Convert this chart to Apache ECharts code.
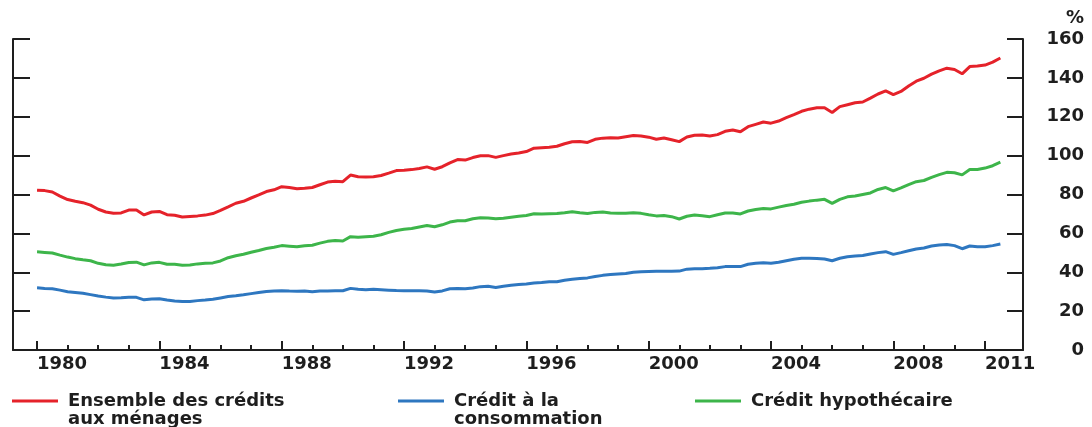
<!DOCTYPE html>
<html>
<head>
<meta charset="utf-8">
<script src="https://cdn.jsdelivr.net/npm/echarts@6/dist/echarts.min.js"></script>
<style>
html,body{margin:0;padding:0;background:#fff;}
#chart{width:1092px;height:427px;}
</style>
</head>
<body>
<div id="chart"></div>
<script>
// Quarterly dates (decimal years)
const quarters = [
1980.00,1980.25,1980.50,1980.75,1981.00,1981.25,1981.50,1981.75,1982.00,1982.25,1982.50,1982.75,
1983.00,1983.25,1983.50,1983.75,1984.00,1984.25,1984.50,1984.75,1985.00,1985.25,1985.50,1985.75,
1986.00,1986.25,1986.50,1986.75,1987.00,1987.25,1987.50,1987.75,1988.00,1988.25,1988.50,1988.75,
1989.00,1989.25,1989.50,1989.75,1990.00,1990.25,1990.50,1990.75,1991.00,1991.25,1991.50,1991.75,
1992.00,1992.25,1992.50,1992.75,1993.00,1993.25,1993.50,1993.75,1994.00,1994.25,1994.50,1994.75,
1995.00,1995.25,1995.50,1995.75,1996.00,1996.25,1996.50,1996.75,1997.00,1997.25,1997.50,1997.75,
1998.00,1998.25,1998.50,1998.75,1999.00,1999.25,1999.50,1999.75,2000.00,2000.25,2000.50,2000.75,
2001.00,2001.25,2001.50,2001.75,2002.00,2002.25,2002.50,2002.75,2003.00,2003.25,2003.50,2003.75,
2004.00,2004.25,2004.50,2004.75,2005.00,2005.25,2005.50,2005.75,2006.00,2006.25,2006.50,2006.75,
2007.00,2007.25,2007.50,2007.75,2008.00,2008.25,2008.50,2008.75,2009.00,2009.25,2009.50,2009.75,
2010.00,2010.25,2010.50,2010.75,2011.00,2011.25,2011.50
];

// Ensemble des crédits aux ménages (%)
const ensemble = [
82.2,82.0,81.3,79.2, 77.4,76.5,75.8,74.5, 72.4,71.0,70.4,70.5, 72.0,72.0,69.5,71.0,
71.3,69.6,69.3,68.4, 68.7,69.0,69.4,70.2, 71.8,73.6,75.5,76.5, 78.2,79.8,81.5,82.4,
84.0,83.6,83.0,83.2, 83.6,85.0,86.4,86.8, 86.6,90.0,89.1,89.0, 89.1,89.8,91.0,92.3,
92.5,92.8,93.4,94.2, 93.0,94.3,96.3,98.0, 97.7,99.0,99.9,100.0, 99.1,100.0,100.8,101.4,
102.1,103.8,104.1,104.3, 104.8,106.1,107.1,107.3, 106.8,108.4,109.0,109.2, 109.1,109.7,110.3,110.1,
109.5,108.4,109.1,108.2, 107.2,109.6,110.5,110.6, 110.1,110.8,112.5,113.2, 112.3,114.9,116.1,117.3,
116.7,117.8,119.5,121.1, 122.8,123.9,124.6,124.6, 122.2,125.2,126.2,127.2, 127.6,129.6,131.7,133.3,
131.4,133.0,135.8,138.3, 139.8,141.9,143.6,145.0, 144.3,142.1,145.8,146.1, 146.6,148.1,150.2
];

// Crédit à la consommation (%)
const consommation = [
32.0,31.7,31.5,30.8, 30.0,29.6,29.2,28.5, 27.8,27.2,26.8,26.9, 27.1,27.1,25.8,26.2,
26.4,25.7,25.2,24.9, 25.0,25.4,25.7,26.1, 26.8,27.5,27.9,28.4, 29.0,29.6,30.1,30.4,
30.5,30.3,30.2,30.3, 30.0,30.3,30.4,30.5, 30.5,31.7,31.2,31.0, 31.2,31.0,30.8,30.6,
30.5,30.5,30.5,30.3, 29.8,30.4,31.5,31.6, 31.5,31.9,32.6,32.8, 32.2,32.8,33.3,33.7,
34.0,34.5,34.7,35.1, 35.1,35.9,36.4,36.8, 37.1,37.8,38.4,38.8, 39.1,39.4,40.0,40.2,
40.4,40.5,40.5,40.5, 40.6,41.6,41.8,41.8, 42.0,42.3,42.9,43.0, 42.9,44.1,44.6,44.9,
44.6,45.1,45.9,46.7, 47.2,47.2,47.1,46.8, 45.9,47.2,48.0,48.4, 48.6,49.4,50.1,50.6,
49.2,50.1,51.1,52.0, 52.5,53.5,54.0,54.3, 53.7,52.1,53.5,53.1, 53.1,53.7,54.5
];

// Crédit hypothécaire (%)
const hypothecaire = [
50.5,50.2,49.9,48.8, 47.8,47.0,46.4,45.9, 44.6,43.9,43.6,44.2, 45.0,45.2,43.8,44.8,
45.1,44.1,44.1,43.6, 43.7,44.3,44.6,44.8, 45.8,47.5,48.5,49.3, 50.3,51.2,52.2,52.9,
53.7,53.4,53.1,53.6, 53.9,55.0,55.9,56.3, 56.1,58.3,58.0,58.3, 58.5,59.3,60.5,61.5,
62.1,62.5,63.3,64.0, 63.4,64.4,65.8,66.5, 66.5,67.5,68.0,67.9, 67.5,67.8,68.3,68.8,
69.2,70.1,70.0,70.1, 70.2,70.6,71.1,70.6, 70.2,70.8,71.0,70.5, 70.3,70.3,70.6,70.3,
69.6,69.0,69.2,68.6, 67.4,68.8,69.4,69.1, 68.6,69.6,70.5,70.5, 70.0,71.5,72.3,72.8,
72.6,73.5,74.3,75.0, 76.0,76.6,77.1,77.5, 75.4,77.5,78.8,79.2, 80.0,80.8,82.6,83.6,
81.9,83.4,85.1,86.6, 87.2,88.8,90.2,91.4, 91.2,90.1,92.9,92.9, 93.6,94.8,96.6
];

const seriesNames = ['Ensemble des crédits\naux ménages', 'Crédit à la\nconsommation', 'Crédit hypothécaire'];
const seriesColors = ['#e5222a', '#2e77c0', '#3db54a'];

// Axis ticks / labels
const yearLabels = [1980, 1984, 1988, 1992, 1996, 2000, 2004, 2008, 2011];
const minorYears = [1981,1982,1983,1985,1986,1987,1989,1990,1991,1993,1994,1995,1997,1998,1999,
                    2001,2002,2003,2005,2006,2007,2009,2010];
const yTicks = [0, 20, 40, 60, 80, 100, 120, 140, 160];

const X_MIN = 1979.214, X_MAX = 2012.24;
const FONT = 'DejaVu Sans';
const WEIGHT = 'bold';
const INK = '#1e1e1e';

function pairs(vals) { return quarters.map((q, i) => [q, vals[i]]); }

const chart = echarts.init(document.getElementById('chart'), null, {renderer: 'canvas'});

const legendText = {fontFamily: FONT, fontSize: 18, fontWeight: WEIGHT, color: INK, lineHeight: 18, padding: [0, 0, 0, 5]};
const legendBase = {
  orient: 'horizontal', padding: 0, icon: 'rect', itemWidth: 46, itemHeight: 3,
  selectedMode: false, textStyle: legendText
};

chart.setOption({
  animation: false,
  backgroundColor: '#fff',
  title: {
    text: '%', left: 1066, top: 9, padding: 0,
    textStyle: {fontFamily: FONT, fontSize: 18, fontWeight: WEIGHT, color: INK}
  },
  grid: {left: 13, right: 69, top: 39, bottom: 77, containLabel: false, outerBoundsMode: 'none'},
  xAxis: [
    {
      type: 'value', min: X_MIN, max: X_MAX, position: 'bottom',
      axisLine: {show: true, onZero: false, lineStyle: {color: INK, width: 2}},
      axisTick: {show: true, inside: true, length: 9, customValues: yearLabels, lineStyle: {color: INK, width: 2}},
      axisLabel: {
        show: true, customValues: yearLabels, align: 'left', margin: 5,
        fontFamily: FONT, fontSize: 18, fontWeight: WEIGHT, color: INK,
        formatter: v => String(Math.round(v))
      },
      splitLine: {show: false}
    },
    {
      type: 'value', min: X_MIN, max: X_MAX, position: 'bottom',
      axisLine: {show: false, onZero: false},
      axisTick: {show: true, inside: true, length: 5, customValues: minorYears, lineStyle: {color: INK, width: 2}},
      axisLabel: {show: false},
      splitLine: {show: false}
    }
  ],
  yAxis: [
    {
      type: 'value', min: 0, max: 160, interval: 20, position: 'left',
      axisLine: {show: true, onZero: false, lineStyle: {color: INK, width: 2}},
      axisTick: {show: true, inside: true, length: 17, lineStyle: {color: INK, width: 2}},
      axisLabel: {show: false},
      splitLine: {show: false}
    },
    {
      type: 'value', min: 0, max: 160, interval: 20, position: 'right',
      axisLine: {show: true, onZero: false, lineStyle: {color: INK, width: 2}},
      axisTick: {show: true, inside: true, length: 16, customValues: yTicks, lineStyle: {color: INK, width: 2}},
      axisLabel: {
        show: true, customValues: yTicks, align: 'right', margin: 61,
        fontFamily: FONT, fontSize: 18, fontWeight: WEIGHT, color: INK
      },
      splitLine: {show: false}
    }
  ],
  legend: [
    Object.assign({}, legendBase, {
      data: [seriesNames[0]], left: 12, top: 374,
      formatter: name => '\n' + name
    }),
    Object.assign({}, legendBase, {
      data: [seriesNames[1]], left: 398, top: 374,
      formatter: name => '\n' + name
    }),
    Object.assign({}, legendBase, {
      data: [seriesNames[2]], left: 695, top: 392
    })
  ],
  series: [
    {name: seriesNames[0], type: 'line', data: pairs(ensemble), symbol: 'none', color: seriesColors[0],
     lineStyle: {width: 3, color: seriesColors[0]}, xAxisIndex: 0, yAxisIndex: 0},
    {name: seriesNames[1], type: 'line', data: pairs(consommation), symbol: 'none', color: seriesColors[1],
     lineStyle: {width: 3, color: seriesColors[1]}, xAxisIndex: 0, yAxisIndex: 0},
    {name: seriesNames[2], type: 'line', data: pairs(hypothecaire), symbol: 'none', color: seriesColors[2],
     lineStyle: {width: 3, color: seriesColors[2]}, xAxisIndex: 0, yAxisIndex: 0}
  ]
});
</script>
</body>
</html>
